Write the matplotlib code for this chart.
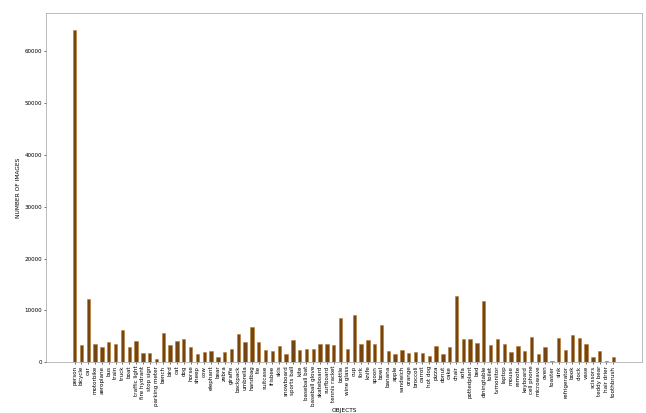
import matplotlib.pyplot as plt

# COCO object classes and number of images containing each
objects = ['person', 'bicycle', 'car', 'motorbike', 'aeroplane', 'bus', 'train', 'truck',
           'boat', 'traffic light', 'fire hydrant', 'stop sign', 'parking meter', 'bench',
           'bird', 'cat', 'dog', 'horse', 'sheep', 'cow', 'elephant', 'bear', 'zebra',
           'giraffe', 'backpack', 'umbrella', 'handbag', 'tie', 'suitcase', 'frisbee',
           'skis', 'snowboard', 'sports ball', 'kite', 'baseball bat', 'baseball glove',
           'skateboard', 'surfboard', 'tennis racket', 'bottle', 'wine glass', 'cup',
           'fork', 'knife', 'spoon', 'bowl', 'banana', 'apple', 'sandwich', 'orange',
           'broccoli', 'carrot', 'hot dog', 'pizza', 'donut', 'cake', 'chair', 'sofa',
           'pottedplant', 'bed', 'diningtable', 'toilet', 'tvmonitor', 'laptop', 'mouse',
           'remote', 'keyboard', 'cell phone', 'microwave', 'oven', 'toaster', 'sink',
           'refrigerator', 'book', 'clock', 'vase', 'scissors', 'teddy bear',
           'hair drier', 'toothbrush']
num_images = [64115, 3252, 12251, 3502, 2986, 3952, 3588, 6127,
              3025, 4139, 1711, 1734, 705, 5570,
              3237, 4114, 4385, 2941, 1529, 1968, 2143, 960, 1916,
              2546, 5528, 3968, 6841, 3810, 2402, 2184,
              3082, 1654, 4262, 2261, 2506, 2629,
              3476, 3486, 3394, 8501, 2533, 9189,
              3555, 4326, 3529, 7111, 2243, 1586, 2365, 1699,
              1939, 1683, 1222, 3166, 1523, 2925, 12774, 4423,
              4452, 3682, 11837, 3353, 4561, 3524, 1876,
              3076, 2115, 4803, 1547, 2877, 217, 4678,
              2360, 5332, 4659, 3593, 947, 2140,
              189, 1007]

fig = plt.figure(figsize=(6.46, 4.13), dpi=100)
ax = fig.add_axes([0.071, 0.123, 0.923, 0.845])
ax.bar(objects, num_images, width=0.5, color='#754511', edgecolor='#b97a2c', linewidth=0.4)
ax.tick_params(axis='x', labelrotation=90, labelsize=4.1, length=1.5, width=0.4, pad=1)
ax.tick_params(axis='y', labelsize=4.1, length=1.5, width=0.4, pad=1)
ax.set_xlabel('OBJECTS', fontsize=4.2, labelpad=1.5)
ax.set_ylabel('NUMBER OF IMAGES', fontsize=4.2, labelpad=3)
for s in ax.spines.values():
    s.set_linewidth(0.4)
    s.set_color('#888888')

plt.savefig('out.png', dpi=100)
